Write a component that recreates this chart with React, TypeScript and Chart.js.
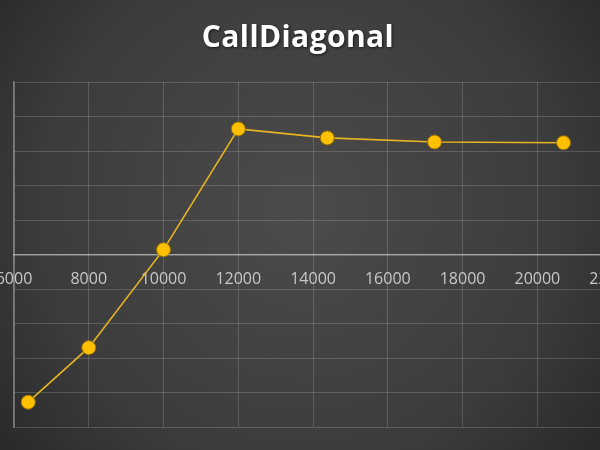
import React, { useEffect, useRef } from 'react';
import { Chart, registerables } from 'chart.js';

Chart.register(...registerables);

const strikes = [6380, 8000, 10000, 12000, 14380, 17250, 20700];
const payoff = [-428, -270, 14, 364, 338, 326, 324];
const titleText = 'CallDiagonal';

// the plot runs off both edges of the window, so the canvas is wider and shifted left
const PLOT_LEFT = 14; // where 6000 should sit on screen
const PLOT_WIDTH = 600; // screen pixels from 6000 to 22000
const CANVAS_W = 690;

const backgroundPlugin = {
   id: 'bgGradient',
   beforeDraw(chart: any) {
      const { ctx, width, height } = chart;
      const shift = parseFloat(chart.canvas.style.left || '0');
      const cx = 300 - shift;
      const g = ctx.createRadialGradient(cx, 210, 10, cx, 210, 420);
      g.addColorStop(0, '#4b4b4b');
      g.addColorStop(0.6, '#3c3c3c');
      g.addColorStop(1, '#242424');
      ctx.save();
      ctx.fillStyle = g;
      ctx.fillRect(0, 0, width, height);
      ctx.restore();
   },
};

const App = () => {
   const canvasRef = useRef<HTMLCanvasElement | null>(null);

   useEffect(() => {
      const canvas = canvasRef.current;
      if (!canvas) return;
      const chart = new Chart(canvas, {
         type: 'line',
         data: {
            datasets: [
               {
                  data: strikes.map((x, i) => ({ x, y: payoff[i] })),
                  borderColor: '#e8b520',
                  borderWidth: 1.6,
                  pointRadius: 7,
                  pointBackgroundColor: '#ffc000',
                  pointBorderColor: '#9a7000',
                  pointBorderWidth: 1,
                  tension: 0,
               },
            ],
         },
         options: {
            responsive: false,
            animation: false,
            layout: { padding: { left: 54, right: 26, bottom: 23, top: 82 } },
            plugins: {
               legend: { display: false },
               tooltip: { enabled: false },
               title: { display: false },
            },
            scales: {
               x: {
                  type: 'linear',
                  position: { y: 0 },
                  min: 6000,
                  max: 22000,
                  ticks: {
                     stepSize: 2000,
                     color: '#c8c8c8',
                     font: { family: 'Open Sans', size: 16 },
                     padding: 15,
                     maxRotation: 0,
                     callback: (v: any) => String(v),
                  },
                  grid: {
                     color: 'rgba(255,255,255,0.16)',
                     drawTicks: false,
                  },
                  border: { color: 'rgba(255,255,255,0.45)', width: 1.5 },
               },
               y: {
                  min: -500,
                  max: 500,
                  ticks: { display: false, stepSize: 100 },
                  grid: { color: 'rgba(255,255,255,0.16)', drawTicks: false },
                  border: { color: 'rgba(255,255,255,0.35)', width: 1.5 },
               },
            },
         },
         plugins: [backgroundPlugin],
      });

      // stretch the canvas so the x range spans PLOT_WIDTH, then slide it into place
      const area = chart.chartArea;
      const extra = PLOT_WIDTH - (area.right - area.left);
      if (Math.abs(extra) > 0.5) chart.resize(CANVAS_W + extra + 2, 450);
      canvas.style.left = PLOT_LEFT - chart.chartArea.left + 'px';
      chart.update();

      return () => {
         chart.destroy();
      };
   }, []);

   return (
      <div style={{ position: 'fixed', left: 0, top: 0, width: 600, height: 450, overflow: 'hidden', background: '#333' }}>
         <canvas
            ref={canvasRef}
            width={CANVAS_W}
            height={450}
            style={{ position: 'absolute', left: 0, top: 0 }}
         />
         <div
            style={{
               position: 'absolute',
               top: 18,
               left: 98,
               width: 400,
               textAlign: 'center',
               fontFamily: 'Open Sans',
               fontWeight: 'bold',
               fontSize: 30,
               lineHeight: '36px',
               letterSpacing: 0.4,
               color: '#ffffff',
               textShadow: '1px 1px 3px rgba(0,0,0,0.6)',
            }}
         >
            {titleText}
         </div>
      </div>
   );
};

export default App;
